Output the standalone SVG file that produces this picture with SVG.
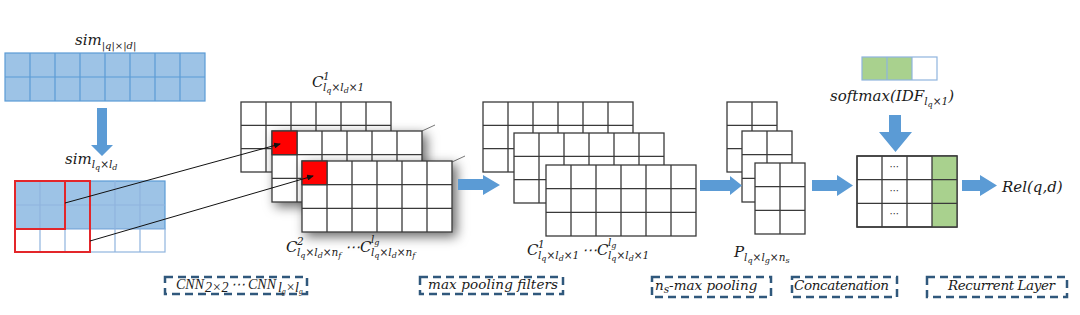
<svg xmlns="http://www.w3.org/2000/svg" width="1080" height="315" viewBox="0 0 1080 315">
<style>
.m{font-family:"DejaVu Serif","Liberation Serif",serif;font-style:italic;font-size:15px;fill:#1a1a1a}
.n{font-family:"Liberation Serif","DejaVu Serif",serif;font-style:italic;font-size:14px;fill:#1a1a1a}
.b{font-size:13.5px}
.u{font-size:10.5px}
.uu{font-size:8px}
.bg{fill:#9dc3e6;stroke:#5b9bd5;stroke-width:1.2}
.bl{fill:none;stroke:#5b9bd5;stroke-width:1.2}
.bl2{fill:none;stroke:#8fb4de;stroke-width:1.2}
.g{fill:#fff;stroke:#3a3a3a;stroke-width:1.3}
.gl{fill:none;stroke:#3a3a3a;stroke-width:1.3}
.red{fill:#ff0000;stroke:#3a3a3a;stroke-width:1.3}
.rb{fill:none;stroke:#e3262a;stroke-width:2}
.grn{fill:#a9d18e}
.arr{fill:#5b9bd5}
.dash{fill:none;stroke:#30587c;stroke-width:2.5;stroke-dasharray:8 5}
.con{stroke:#111;stroke-width:1;fill:none}
.tick{stroke:#777;stroke-width:1}
.dots{font-family:"DejaVu Sans",sans-serif;font-size:10px;fill:#333}
</style>
<defs>
<marker id="ah" markerWidth="7" markerHeight="6" refX="6" refY="3" orient="auto" markerUnits="userSpaceOnUse"><path d="M0,0 L7,3 L0,6 z" fill="#111"/></marker>
<filter id="sh" x="-25%" y="-35%" width="160%" height="180%"><feDropShadow dx="4" dy="4" stdDeviation="6" flood-color="#000" flood-opacity="0.6"/></filter>
</defs>

<g id="sim-full">
<rect class="bg" x="5" y="53" width="200" height="48"/>
<path class="bl" d="M5 77h200M30 53v48M55 53v48M80 53v48M105 53v48M130 53v48M155 53v48M180 53v48"/>
<text class="m" x="75" y="45">sim<tspan font-size="10" y="49">|q|×|d|</tspan></text>
</g>

<g id="sim-lq-ld">
<rect class="bg" x="15" y="181" width="150" height="48"/>
<rect x="15" y="229" width="150" height="23" fill="#fff" stroke="#8fb4de" stroke-width="1.2"/>
<path class="bl2" d="M40 181v71M65 181v71M90 181v71M115 181v71M140 181v71M15 205h150"/>
<rect class="rb" x="15" y="181" width="50" height="48"/>
<rect class="rb" x="15" y="181" width="75" height="71"/>
<text class="m" x="65" y="164">sim<tspan class="u" y="168">l</tspan><tspan class="uu" y="170">q</tspan><tspan class="u" y="168">×l</tspan><tspan class="uu" y="170">d</tspan></text>
</g>

<g id="cnn-maps">
<rect class="g" x="241" y="102" width="150" height="70"/>
<path class="gl" d="M266 102v70M291 102v70M316 102v70M341 102v70M366 102v70M241 125.3h150M241 148.7h150"/>
<line class="tick" x1="422" y1="131" x2="435" y2="125"/>
<g filter="url(#sh)">
<rect class="g" x="272" y="131" width="150" height="71"/>
</g>
<path class="gl" d="M297 131v71M322 131v71M347 131v71M372 131v71M397 131v71M272 154.7h150M272 178.3h150"/>
<rect class="red" x="272" y="131" width="25" height="23.7"/>
<line class="tick" x1="452" y1="162" x2="465" y2="156"/>
<g filter="url(#sh)">
<rect class="g" x="302" y="161" width="150" height="71"/>
</g>
<path class="gl" d="M327 161v71M352 161v71M377 161v71M402 161v71M427 161v71M302 184.7h150M302 208.3h150"/>
<rect class="red" x="302" y="161" width="25" height="23.7"/>
<text class="m" x="312" y="87">C<tspan class="u" x="323" y="80">1</tspan><tspan class="u" x="323" y="91">l</tspan><tspan class="uu" y="93">q</tspan><tspan class="u" y="91">×l</tspan><tspan class="uu" y="93">d</tspan><tspan class="u" y="91">×1</tspan></text>
<text class="m" x="286" y="252">C<tspan class="u" x="297" y="245">2</tspan><tspan class="u" x="297" y="256">l</tspan><tspan class="uu" y="258">q</tspan><tspan class="u" y="256">×l</tspan><tspan class="uu" y="258">d</tspan><tspan class="u" y="256">×n</tspan><tspan class="uu" y="258">f</tspan><tspan x="345" y="252">⋯</tspan><tspan x="360" y="252">C</tspan><tspan class="u" x="371" y="243">l</tspan><tspan class="uu" y="245">g</tspan><tspan class="u" x="371" y="256">l</tspan><tspan class="uu" y="258">q</tspan><tspan class="u" y="256">×l</tspan><tspan class="uu" y="258">d</tspan><tspan class="u" y="256">×n</tspan><tspan class="uu" y="258">f</tspan></text>
</g>

<g id="pooled-maps">
<rect class="g" x="483" y="102" width="150" height="70"/>
<path class="gl" d="M508 102v70M533 102v70M558 102v70M583 102v70M608 102v70M483 125.3h150M483 148.7h150"/>
<rect class="g" x="514" y="133" width="150" height="70"/>
<path class="gl" d="M539 133v70M564 133v70M589 133v70M614 133v70M639 133v70M514 156.3h150M514 179.7h150"/>
<rect class="g" x="546" y="165" width="150" height="71"/>
<path class="gl" d="M571 165v71M596 165v71M621 165v71M646 165v71M671 165v71M546 188.7h150M546 212.3h150"/>
<text class="m" x="527" y="255">C<tspan class="u" x="538" y="248">1</tspan><tspan class="u" x="538" y="259">l</tspan><tspan class="uu" y="261">q</tspan><tspan class="u" y="259">×l</tspan><tspan class="uu" y="261">d</tspan><tspan class="u" y="259">×1</tspan><tspan x="582" y="255">⋯</tspan><tspan x="597" y="255">C</tspan><tspan class="u" x="608" y="246">l</tspan><tspan class="uu" y="248">g</tspan><tspan class="u" x="608" y="259">l</tspan><tspan class="uu" y="261">q</tspan><tspan class="u" y="259">×l</tspan><tspan class="uu" y="261">d</tspan><tspan class="u" y="259">×1</tspan></text>
</g>

<g id="ns-max-pool">
<rect class="g" x="727" y="102" width="50" height="70"/>
<path class="gl" d="M752 102v70M727 125.3h50M727 148.7h50"/>
<rect class="g" x="742" y="131" width="50" height="71"/>
<path class="gl" d="M767 131v71M742 154.7h50M742 178.3h50"/>
<rect class="g" x="755" y="163" width="50" height="71"/>
<path class="gl" d="M780 163v71M755 186.7h50M755 210.3h50"/>
<text class="m" x="734" y="257">P<tspan class="u" y="261">l</tspan><tspan class="uu" y="263">q</tspan><tspan class="u" y="261">×l</tspan><tspan class="uu" y="263">g</tspan><tspan class="u" y="261">×n</tspan><tspan class="uu" y="263">s</tspan></text>
</g>

<g id="idf">
<rect class="grn" x="862" y="57" width="50" height="23"/>
<rect x="862" y="57" width="75" height="23" fill="none" stroke="#8fb4de" stroke-width="1.2"/>
<path class="bl2" d="M887 57v23M912 57v23"/>
<text class="m" x="830" y="101">softmax(IDF<tspan class="u" y="105">l</tspan><tspan class="uu" y="107">q</tspan><tspan class="u" y="105">×1</tspan><tspan y="101">)</tspan></text>
</g>

<g id="concat">
<rect class="g" x="857" y="156" width="100" height="71"/>
<rect class="grn" x="932" y="156" width="25" height="71"/>
<path class="gl" d="M857 156h100v71h-100zM882 156v71M907 156v71M932 156v71M857 179.7h100M857 203.3h100"/>
<text class="dots" x="894.5" y="170" text-anchor="middle">⋯</text>
<text class="dots" x="894.5" y="193.5" text-anchor="middle">⋯</text>
<text class="dots" x="894.5" y="217" text-anchor="middle">⋯</text>
</g>

<g id="rel">
<text class="m" x="1002" y="192">Rel(q,d)</text>
</g>

<g id="connectors">
<line class="con" x1="65" y1="203" x2="280" y2="144" marker-end="url(#ah)"/>
<line class="con" x1="90" y1="241" x2="313" y2="176" marker-end="url(#ah)"/>
<polygon class="arr" points="97,108 107,108 107,145 113,145 102,156 91,145 97,145"/>
<polygon class="arr" points="458,179 483,179 483,175 500,185 483,195 483,190 458,190"/>
<polygon class="arr" points="700,180 730,180 730,176 742,185.5 730,195 730,191 700,191"/>
<polygon class="arr" points="812,180 837,180 837,175 853,185.5 837,196 837,191 812,191"/>
<polygon class="arr" points="962,180 980,180 980,175 997,185.5 980,196 980,191 962,191"/>
<polygon class="arr" points="889,115 901,115 901,132 912,132 895.5,152 879,132 889,132"/>
</g>

<g id="label-cnn">
<rect class="dash" x="165" y="277" width="142" height="17"/>
<text class="n" x="176" y="289">CNN</text>
<text class="n" font-size="10" x="205" y="292">2×2</text>
<text class="n" x="231" y="289">⋯</text>
<text class="n" x="248" y="289">CNN</text>
<text class="n" font-size="10" x="278" y="292">l<tspan font-size="7.5" y="294">g</tspan><tspan y="292">×l</tspan><tspan font-size="7.5" y="294">g</tspan></text>
</g>
<g id="label-maxpool">
<rect class="dash" x="420" y="277" width="143" height="17"/>
<text class="m b" x="428" y="289" textLength="130">max pooling filters</text>
</g>
<g id="label-nsmax">
<rect class="dash" x="652" y="277" width="119" height="20"/>
<text class="m b" x="655" y="290">n<tspan class="u" y="293">s</tspan><tspan y="290">-max pooling</tspan></text>
</g>
<g id="label-concat">
<rect class="dash" x="792" y="277" width="105" height="20"/>
<text class="m b" x="794" y="290" textLength="95">Concatenation</text>
</g>
<g id="label-recurrent">
<rect class="dash" x="927" y="277" width="140" height="20"/>
<text class="m b" x="948" y="290" textLength="107">Recurrent Layer</text>
</g>
</svg>
